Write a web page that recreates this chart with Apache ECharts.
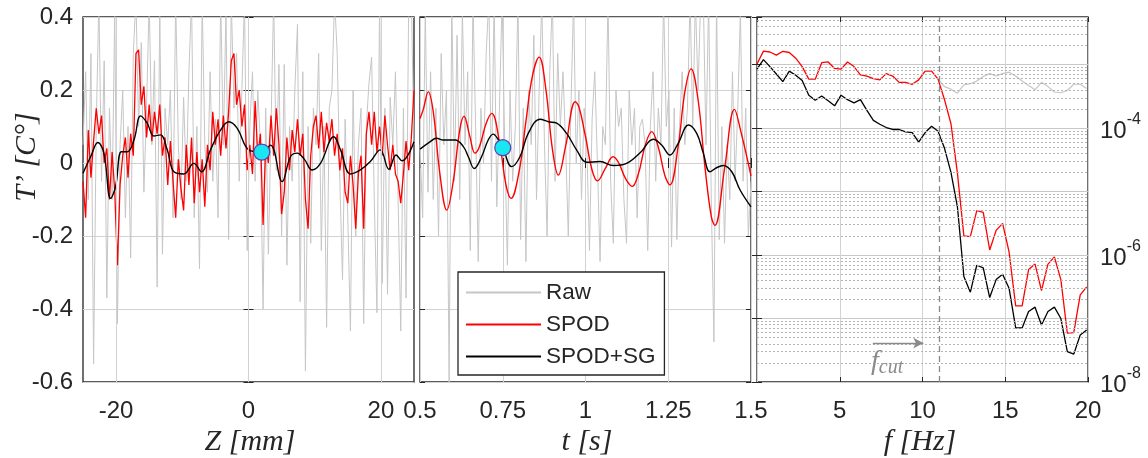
<!DOCTYPE html>
<html><head><meta charset="utf-8">
<script src="https://cdn.jsdelivr.net/npm/echarts@6/dist/echarts.min.js"></script>
<style>html,body{margin:0;padding:0;background:#fff}#c{width:1148px;height:458px}</style>
</head><body><div id="c"></div>
<script>
// ---------- Panel 1: spatial signal T'(Z) ----------
const zGrid = [-25,-24.6,-24.2,-23.8,-23.4,-23,-22.6,-22.2,-21.8,-21.4,-21,-20.6,-20.2,-19.8,-19.4,-19,-18.6,-18.2,-17.8,-17.4,-17,-16.6,-16.2,-15.8,-15.4,-15,-14.6,-14.2,-13.8,-13.4,-13,-12.6,-12.2,-11.8,-11.4,-11,-10.6,-10.2,-9.8,-9.4,-9,-8.6,-8.2,-7.8,-7.4,-7,-6.6,-6.2,-5.8,-5.4,-5,-4.6,-4.2,-3.8,-3.4,-3,-2.6,-2.2,-1.8,-1.4,-1,-0.6,-0.2,0.2,0.6,1,1.4,1.8,2.2,2.6,3,3.4,3.8,4.2,4.6,5,5.4,5.8,6.2,6.6,7,7.4,7.8,8.2,8.6,9,9.4,9.8,10.2,10.6,11,11.4,11.8,12.2,12.6,13,13.4,13.8,14.2,14.6,15,15.4,15.8,16.2,16.6,17,17.4,17.8,18.2,18.6,19,19.4,19.8,20.2,20.6,21,21.4,21.8,22.2,22.6,23,23.4,23.8,24.2,24.6,25];
const rawZ = [0.05,0.25,-0.10,0.30,-0.55,0.10,0.45,-0.05,0.28,-0.37,
0.15,-0.10,0.42,-0.44,0.05,0.20,-0.15,0.10,-0.26,0.30,
0.45,0.10,0.33,-0.08,0.15,0.45,0.05,0.28,-0.34,0.42,
-0.25,0.15,0.05,0.20,-0.15,0.45,0.05,-0.10,0.18,-0.05,
0.25,0.45,-0.15,0.10,-0.29,0.45,0.05,-0.08,0.25,-0.05,
0.12,-0.15,0.45,0.05,0.42,-0.21,0.45,0.15,0.30,-0.05,
0.20,0.45,-0.24,0.10,0.25,-0.05,0.20,0.05,-0.40,0.15,
-0.25,0.10,0.45,-0.02,0.27,-0.20,0.27,-0.28,0.10,-0.05,
0.20,0.38,-0.38,0.25,-0.57,0.10,-0.22,0.15,0.05,0.30,
-0.24,0.10,-0.45,0.15,0.20,0.45,0.30,-0.05,-0.32,0.12,
-0.15,-0.46,0.20,-0.20,0.05,0.15,-0.44,0.10,0.22,0.29,
-0.10,-0.41,0.45,-0.33,0.15,-0.36,0.18,0.05,0.25,-0.10,
-0.46,0.15,-0.37,0.45,0.45,0.05];
const spodZ = [-0.05,-0.15,0.09,-0.04,0.06,0.15,0.08,0.13,0.0,0.04,
-0.10,0.03,-0.08,-0.28,-0.06,0.02,0.07,-0.04,0.08,0.02,
0.30,0.31,0.16,0.21,0.07,0.16,0.06,0.14,0.08,0.16,
0.02,0.07,-0.06,0.06,-0.05,-0.15,0.01,-0.07,-0.13,0.05,
-0.06,0.07,-0.11,0.03,-0.08,0.01,-0.12,0.05,-0.02,0.14,
0.05,0.12,0.02,0.13,0.04,0.14,0.28,0.30,0.16,0.20,
0.10,0.16,-0.02,0.05,-0.03,0.17,0.02,0.08,-0.17,0.05,
0.00,0.13,0.02,0.15,0.05,-0.14,-0.08,0.07,-0.02,0.09,
0.03,0.12,0.02,0.08,-0.10,-0.18,0.02,0.10,0.13,0.04,
0.14,0.03,0.11,0.06,0.12,0.02,0.08,-0.02,0.04,-0.08,
-0.11,0.02,-0.06,-0.18,-0.03,0.02,-0.18,0.08,0.14,0.05,
0.14,0.03,0.10,0.02,0.13,0.05,-0.02,0.05,-0.03,-0.05,
-0.11,-0.03,0.06,-0.02,0.07,0.20];
const sgZpos = [-25,-23.85,-22.75,-21.84,-20.83,-20.08,-19.2,-18.3,-17.3,-16.3,-15.3,-14.3,-13.3,-12.27,-11.27,-9.77,-8.26,-7.1,-5.74,-4.23,-2.97,-1.7,0.05,2.0,3.32,5.09,6.34,7.35,8.45,9.6,10.87,12.88,13.9,15.4,16.9,18.4,19.9,21.2,22.3,23.2,25];
const sgZ = [-0.028,0.017,0.056,0.027,-0.097,-0.065,0.031,0.031,0.063,0.129,0.109,0.074,0.077,0.036,-0.024,-0.03,-0.001,-0.024,0.036,0.090,0.113,0.095,0.036,0.03,0.049,-0.051,0.017,0.027,0.010,-0.019,-0.001,0.072,0.036,-0.030,-0.019,0.004,0.036,-0.017,0.022,0.006,0.058];
const markerZ = [2.0, 0.03];

// ---------- Panel 2: temporal signal T'(t) ----------
const tGrid = [0.5,0.508,0.516,0.524,0.532,0.54,0.548,0.556,0.564,0.572,0.58,0.588,0.596,0.604,0.612,0.62,0.628,0.636,0.644,0.652,0.66,0.668,0.676,0.684,0.692,0.7,0.708,0.716,0.724,0.732,0.74,0.748,0.756,0.764,0.772,0.78,0.788,0.796,0.804,0.812,0.82,0.828,0.836,0.844,0.852,0.86,0.868,0.876,0.884,0.892,0.9,0.908,0.916,0.924,0.932,0.94,0.948,0.956,0.964,0.972,0.98,0.988,0.996,1.004,1.012,1.02,1.028,1.036,1.044,1.052,1.06,1.068,1.076,1.084,1.092,1.1,1.108,1.116,1.124,1.132,1.14,1.148,1.156,1.164,1.172,1.18,1.188,1.196,1.204,1.212,1.22,1.228,1.236,1.244,1.252,1.26,1.268,1.276,1.284,1.292,1.3,1.308,1.316,1.324,1.332,1.34,1.348,1.356,1.364,1.372,1.38,1.388,1.396,1.404,1.412,1.42,1.428,1.436,1.444,1.452,1.46,1.468,1.476,1.484,1.492,1.5];
const rawT = [0.05,-0.15,0.42,-0.08,0.25,-0.10,0.15,-0.20,0.30,0.05,
0.20,-0.60,0.45,-0.05,0.35,-0.10,0.42,0.05,0.25,-0.24,
0.45,0.10,-0.27,0.15,0.00,0.30,0.45,-0.05,0.45,-0.12,
0.15,0.45,0.05,-0.28,0.20,-0.05,0.10,0.45,-0.21,0.15,
-0.27,0.20,0.05,0.35,-0.10,0.20,0.45,0.05,-0.20,0.25,
0.45,-0.05,0.30,0.10,0.25,0.05,-0.20,0.15,0.45,0.00,
0.20,-0.10,0.15,0.05,-0.24,0.12,0.25,0.00,-0.27,0.10,
0.05,0.45,-0.05,-0.22,0.20,0.10,0.15,-0.10,-0.22,0.20,
0.05,0.15,-0.15,0.10,0.12,0.05,-0.24,0.10,0.25,-0.05,
0.15,0.05,0.45,0.10,0.20,-0.23,0.15,-0.21,0.10,0.25,
0.05,0.15,0.45,0.10,0.45,0.20,0.45,0.45,0.05,0.45,
-0.10,-0.49,0.45,-0.21,0.10,-0.22,0.05,-0.10,0.25,-0.05,
0.15,0.42,-0.05,0.15,-0.20,-0.05];
const spodTpos = [0.5,0.51,0.525,0.54,0.56,0.581,0.60,0.62,0.633,0.65,0.666,0.68,0.70,0.717,0.74,0.76,0.775,0.80,0.82,0.84,0.86,0.88,0.90,0.918,0.94,0.969,0.98,1.00,1.02,1.036,1.06,1.083,1.10,1.12,1.141,1.16,1.18,1.20,1.22,1.24,1.255,1.28,1.30,1.319,1.34,1.36,1.38,1.391,1.42,1.45,1.47,1.5];
const spodT = [0.122,0.147,0.195,0.141,-0.029,-0.129,-0.053,0.090,0.128,0.075,0.027,0.046,0.109,0.136,0.057,-0.061,-0.097,-0.020,0.114,0.240,0.290,0.204,0.038,-0.033,0.046,0.168,0.154,0.072,-0.020,-0.049,-0.015,0.017,0.001,-0.041,-0.064,-0.029,0.047,0.086,0.043,-0.035,-0.060,0.046,0.194,0.258,0.174,-0.003,-0.147,-0.171,-0.016,0.147,0.084,-0.035];
const sgTpos = [0.5,0.53,0.55,0.57,0.606,0.631,0.646,0.664,0.686,0.706,0.721,0.737,0.751,0.777,0.802,0.827,0.863,0.888,0.913,0.943,0.973,1.004,1.044,1.084,1.124,1.165,1.205,1.23,1.255,1.28,1.311,1.336,1.356,1.376,1.396,1.416,1.442,1.467,1.5];
const sgT = [0.038,0.058,0.068,0.063,0.063,0.045,0.017,-0.015,0.017,0.063,0.079,0.063,0.040,-0.010,0.017,0.081,0.120,0.113,0.109,0.081,0.036,0.002,0.004,-0.007,-0.001,0.028,0.065,0.049,0.022,0.054,0.104,0.081,0.027,-0.024,-0.013,-0.007,-0.024,-0.074,-0.12];
const markerT = [0.75, 0.042];

// ---------- Panel 3: spectra ----------
const freq = [0,0.39,0.78,1.17,1.56,1.95,2.34,2.73,3.13,3.52,3.91,4.30,4.69,5.08,5.47,5.86,6.25,6.64,7.03,7.42,7.81,8.20,8.59,8.98,9.38,9.77,10.16,10.55,10.94,11.33,11.72,12.11,12.50,12.89,13.28,13.67,14.06,14.45,14.84,15.23,15.63,16.02,16.41,16.80,17.19,17.58,17.97,18.36,18.75,19.14,19.53,19.92];
const psdRaw = [null,null,null,null,null,null,null,null,null,null,null,null,null,null,null,null,null,null,null,null,null,null,null,null,null,null,null,null,
5.9e-4,4.5e-4,4.1e-4,3.55e-4,4.8e-4,5.0e-4,5.5e-4,6.5e-4,7.2e-4,6.6e-4,7.2e-4,7.6e-4,6.6e-4,5.5e-4,4.7e-4,4.0e-4,5.25e-4,4.5e-4,3.7e-4,3.6e-4,3.9e-4,4.9e-4,4.9e-4,4.2e-4];
const psdSpod = [1.02e-3,1.63e-3,1.58e-3,1.41e-3,1.62e-3,1.55e-3,1.26e-3,9.3e-4,5.9e-4,5.9e-4,1.07e-3,1.10e-3,8.7e-4,8.5e-4,1.10e-3,9.3e-4,6.9e-4,6.6e-4,6.0e-4,5.75e-4,7.2e-4,6.6e-4,5.25e-4,5.25e-4,4.9e-4,5.75e-4,7.9e-4,7.9e-4,5.9e-4,2.8e-4,1.17e-4,1.95e-5,2.0e-6,1.95e-6,5.0e-6,4.7e-6,1.2e-6,2.45e-6,3.16e-6,1.12e-6,1.58e-7,1.58e-7,5.9e-7,7.2e-7,2.75e-7,7.2e-7,9.3e-7,4.1e-7,5.9e-8,6.0e-8,2.35e-7,3.16e-7];
const psdSG = [8.5e-4,1.2e-3,9.3e-4,7.1e-4,5.4e-4,7.9e-4,6.8e-4,5.6e-4,3.3e-4,2.75e-4,3.2e-4,2.7e-4,2.24e-4,3.3e-4,2.8e-4,2.5e-4,2.8e-4,1.9e-4,1.32e-4,1.15e-4,1.02e-4,9.5e-5,9.5e-5,8.7e-5,8.5e-5,6.0e-5,8.5e-5,1.07e-4,8.9e-5,4.8e-5,2.0e-5,5.75e-6,4.6e-7,2.6e-7,6.9e-7,6.3e-7,2.14e-7,4.1e-7,5.0e-7,3.0e-7,7.1e-8,7.1e-8,1.29e-7,1.51e-7,7.9e-8,1.29e-7,1.51e-7,1.0e-7,3.0e-8,2.75e-8,5.5e-8,6.6e-8];
const fCut = 11;
const arrowF = [7.0, 10.05];
const arrowLevel = 4.1e-8;

// ---------- axes / labels ----------
const zTicks = [-20, 0, 20];
const labelExp = [-4, -6, -8];
const psdMin = 1e-8, psdMax = 5.62e-3;
const fRange = [0, 20];
const seriesNames = ['Raw', 'SPOD', 'SPOD+SG'];
const axisTitles = ['Z [mm]', 't [s]', 'f [Hz]', 'T\u2019 [C\u00B0]'];

const C_RAW = '#c6c6c6', C_SPOD = '#ff0000', C_SG = '#000000', TXT = '#262626', GRIDC = '#d2d2d2';
const SANS = 'Liberation Sans', SERIF = 'Liberation Serif';

const minorLevels = [];
for (let e = -8; e <= -3; e++) for (let m = 2; m <= 9; m++) { const v = m * Math.pow(10, e); if (v < psdMax) minorLevels.push(v); }

const pair = (xs, ys) => xs.map((x, i) => [x, ys[i]]);
const tickLbl = { fontSize: 24, color: TXT, fontFamily: SANS };
const tickSty = { show: true, inside: true, length: 5, lineStyle: { color: '#262626', width: 1 } };
const noLbl = { show: false };
const edgeMid = { verticalAlignMinLabel: 'middle', verticalAlignMaxLabel: 'middle' };

const grids = [
  { left: 83, top: 17, width: 331, height: 365 },
  { left: 420, top: 17, width: 331, height: 365 },
  { left: 757, top: 17, width: 331, height: 365 }
].map(g => Object.assign(g, { show: true, borderColor: '#262626', borderWidth: 1.3, backgroundColor: '#fff', containLabel: false }));

const linAxisY = (gi, showLbl) => ({
  gridIndex: gi, type: 'value', min: -0.6, max: 0.4, interval: 0.2, position: 'left',
  axisLine: { show: false }, axisTick: tickSty,
  axisLabel: Object.assign({ show: showLbl, margin: 10 }, edgeMid, tickLbl),
  splitLine: { show: true, lineStyle: { color: GRIDC, width: 1 } }
});

const xAxes = [
  { gridIndex: 0, type: 'value', min: -25, max: 25,
    axisLine: { show: false }, axisTick: Object.assign({ customValues: zTicks }, tickSty),
    axisLabel: Object.assign({ customValues: zTicks, margin: 17 }, tickLbl),
    splitLine: { show: false } },
  { gridIndex: 1, type: 'value', min: 0.5, max: 1.5, interval: 0.25,
    axisLine: { show: false }, axisTick: tickSty,
    axisLabel: Object.assign({ margin: 17 }, tickLbl),
    splitLine: { show: true, lineStyle: { color: GRIDC, width: 1 } } },
  { gridIndex: 2, type: 'value', min: fRange[0], max: fRange[1], interval: 5,
    axisLine: { show: false }, axisTick: tickSty,
    axisLabel: Object.assign({ margin: 17, showMinLabel: false, formatter: v => (v === 0 ? '' : String(v)) }, tickLbl),
    splitLine: { show: true, lineStyle: { color: GRIDC, width: 1 } } },
  // mirrored top ticks
  { gridIndex: 0, type: 'value', min: -25, max: 25, position: 'top', axisLine: { show: false },
    axisTick: Object.assign({ customValues: zTicks }, tickSty), axisLabel: noLbl, splitLine: { show: false } },
  { gridIndex: 1, type: 'value', min: 0.5, max: 1.5, interval: 0.25, position: 'top', axisLine: { show: false },
    axisTick: tickSty, axisLabel: noLbl, splitLine: { show: false } },
  { gridIndex: 2, type: 'value', min: fRange[0], max: fRange[1], interval: 5, position: 'top', axisLine: { show: false },
    axisTick: tickSty, axisLabel: noLbl, splitLine: { show: false } }
];

const yAxes = [
  linAxisY(0, true),
  linAxisY(1, false),
  { gridIndex: 2, type: 'log', logBase: 10, min: psdMin, max: psdMax, position: 'right',
    axisLine: { show: false }, axisTick: tickSty,
    axisLabel: Object.assign({
      margin: 12, color: TXT, fontFamily: SANS,
      formatter: v => {
        const lv = Math.log10(v), e = Math.round(lv);
        return (Math.abs(lv - e) < 0.01 && labelExp.includes(e)) ? '{b|10}{s|' + e + '}' : '';
      },
      rich: {
        b: { fontSize: 24, fontFamily: SANS, color: TXT, padding: [6, 0, 0, 0] },
        s: { fontSize: 16, fontFamily: SANS, color: TXT, padding: [0, 0, 17, 0] }
      }
    }, edgeMid),
    splitLine: { show: true, lineStyle: { color: '#c8c8c8', width: 1 } }
  },
  // mirrored side ticks
  { gridIndex: 0, type: 'value', min: -0.6, max: 0.4, interval: 0.2, position: 'right', axisLine: { show: false },
    axisTick: tickSty, axisLabel: noLbl, splitLine: { show: false } },
  { gridIndex: 1, type: 'value', min: -0.6, max: 0.4, interval: 0.2, position: 'right', axisLine: { show: false },
    axisTick: tickSty, axisLabel: noLbl, splitLine: { show: false } },
  { gridIndex: 2, type: 'log', logBase: 10, min: psdMin, max: psdMax, position: 'left', axisLine: { show: false },
    axisTick: tickSty, axisLabel: noLbl, splitLine: { show: false } }
];

const titleSty = (txt) => ({ text: txt, fontSize: 30, fontFamily: SERIF, fontStyle: 'italic', fill: TXT,
  align: 'center', verticalAlign: 'middle', textAlign: 'center', textVerticalAlign: 'middle' });

const option = {
  animation: false,
  backgroundColor: '#fff',
  grid: grids,
  xAxis: xAxes,
  yAxis: yAxes,
  legend: {
    data: seriesNames, orient: 'vertical', left: 458, top: 272,
    icon: 'rect', itemWidth: 75, itemHeight: 2, itemGap: 9, padding: [9, 9, 7, 8],
    backgroundColor: '#fff', borderColor: '#262626', borderWidth: 1.3, borderRadius: 0,
    selectedMode: false,
    textStyle: { fontSize: 22.5, color: TXT, fontFamily: SANS, lineHeight: 22 }
  },
  series: [
    // Panel 1
    { name: seriesNames[0], type: 'line', xAxisIndex: 0, yAxisIndex: 0, data: pair(zGrid, rawZ),
      symbol: 'none', lineStyle: { color: C_RAW, width: 1 }, itemStyle: { color: C_RAW }, clip: true, z: 2,
      markLine: { silent: true, symbol: ['none', 'none'], label: { show: false },
        lineStyle: { color: GRIDC, type: 'solid', width: 1 }, data: zTicks.map(v => ({ xAxis: v })) } },
    { name: seriesNames[1], type: 'line', xAxisIndex: 0, yAxisIndex: 0, data: pair(zGrid, spodZ),
      symbol: 'none', lineStyle: { color: C_SPOD, width: 1.3 }, itemStyle: { color: C_SPOD }, clip: true, z: 3 },
    { name: seriesNames[2], type: 'line', xAxisIndex: 0, yAxisIndex: 0, data: pair(sgZpos, sgZ),
      symbol: 'none', smooth: 0.4, lineStyle: { color: C_SG, width: 1.4 }, itemStyle: { color: C_SG }, clip: true, z: 4 },
    { name: 'point', type: 'scatter', xAxisIndex: 0, yAxisIndex: 0, data: [markerZ], symbolSize: 16,
      itemStyle: { color: '#19e6f0', borderColor: '#5a3fb0', borderWidth: 1.2, opacity: 1 }, z: 5 },
    // Panel 2
    { name: seriesNames[0], type: 'line', xAxisIndex: 1, yAxisIndex: 1, data: pair(tGrid, rawT),
      symbol: 'none', lineStyle: { color: C_RAW, width: 1 }, itemStyle: { color: C_RAW }, clip: true, z: 2 },
    { name: seriesNames[1], type: 'line', xAxisIndex: 1, yAxisIndex: 1, data: pair(spodTpos, spodT),
      symbol: 'none', smooth: 0.4, lineStyle: { color: C_SPOD, width: 1.4 }, itemStyle: { color: C_SPOD }, clip: true, z: 3 },
    { name: seriesNames[2], type: 'line', xAxisIndex: 1, yAxisIndex: 1, data: pair(sgTpos, sgT),
      symbol: 'none', smooth: 0.4, lineStyle: { color: C_SG, width: 1.4 }, itemStyle: { color: C_SG }, clip: true, z: 4 },
    { name: 'point', type: 'scatter', xAxisIndex: 1, yAxisIndex: 1, data: [markerT], symbolSize: 16,
      itemStyle: { color: '#19e6f0', borderColor: '#5a3fb0', borderWidth: 1.2, opacity: 1 }, z: 5 },
    // Panel 3
    { name: seriesNames[0], type: 'line', xAxisIndex: 2, yAxisIndex: 2, data: pair(freq, psdRaw),
      symbol: 'none', connectNulls: false, lineStyle: { color: C_RAW, width: 1.2 }, itemStyle: { color: C_RAW }, clip: true, z: 2,
      markLine: { silent: true, symbol: ['none', 'none'], label: { show: false },
        lineStyle: { color: '#b4b4b4', type: [2, 2], width: 1 },
        data: minorLevels.map(v => [{ coord: [fRange[0], v] }, { coord: [fRange[1], v] }]) } },
    { name: seriesNames[1], type: 'line', xAxisIndex: 2, yAxisIndex: 2, data: pair(freq, psdSpod),
      symbol: 'none', lineStyle: { color: C_SPOD, width: 1.3 }, itemStyle: { color: C_SPOD }, clip: true, z: 3,
      markLine: { silent: true, symbol: ['none', 'none'], label: { show: false },
        lineStyle: { color: '#8a8a8a', type: [6, 4], width: 1.3 },
        data: [ { xAxis: fCut } ] } },
    { name: seriesNames[2], type: 'line', xAxisIndex: 2, yAxisIndex: 2, data: pair(freq, psdSG),
      symbol: 'none', lineStyle: { color: C_SG, width: 1.3 }, itemStyle: { color: C_SG }, clip: true, z: 4,
      markLine: { silent: true, symbol: ['none', 'arrow'], symbolSize: [8, 10], label: { show: false },
        lineStyle: { color: '#8a8a8a', type: 'solid', width: 1.3 },
        data: [ [ { coord: [arrowF[0], arrowLevel] }, { coord: [arrowF[1], arrowLevel] } ] ] } }
  ],
  graphic: [
    { type: 'text', x: 250, y: 442, z: 10, style: titleSty(axisTitles[0]) },
    { type: 'text', x: 587, y: 442, z: 10, style: titleSty(axisTitles[1]) },
    { type: 'text', x: 920, y: 442, z: 10, style: titleSty(axisTitles[2]) },
    { type: 'text', x: 27, y: 157, rotation: Math.PI / 2, z: 10, style: titleSty(axisTitles[3]) },
    { type: 'text', left: 871, top: 348, z: 10,
      style: { text: '{f|f}{c|cut}', rich: {
        f: { fontSize: 28, fontFamily: SERIF, fontStyle: 'italic', fill: '#8a8a8a', color: '#8a8a8a' },
        c: { fontSize: 20, fontFamily: SERIF, fontStyle: 'italic', fill: '#8a8a8a', color: '#8a8a8a', padding: [12, 0, 0, 0] } } } }
  ]
};

const chart = echarts.init(document.getElementById('c'), null, { renderer: 'canvas' });
chart.setOption(option);
</script>
</body></html>
